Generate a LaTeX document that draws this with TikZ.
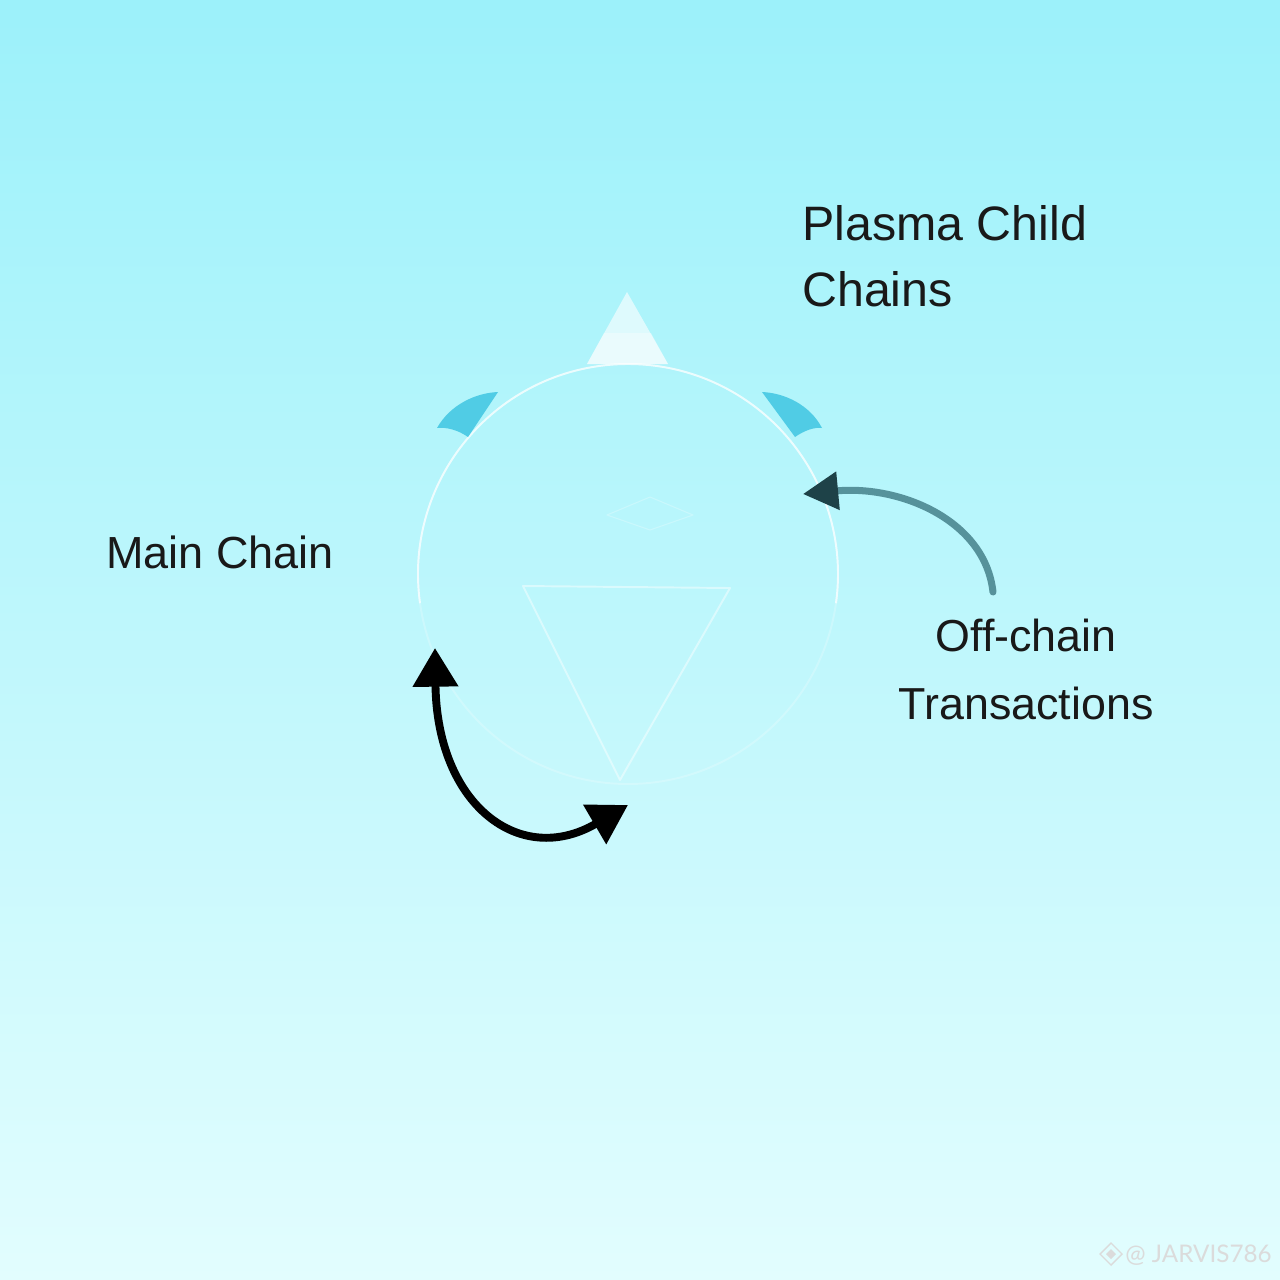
\documentclass[tikz,border=0pt]{standalone}
\usepackage{fontspec}
\setmainfont{Liberation Sans}
\newfontfamily\markfont{Lato}
\usetikzlibrary{arrows.meta}

\definecolor{skytop}{RGB}{156,241,250}
\definecolor{skybottom}{RGB}{226,253,254}
\definecolor{fincyan}{RGB}{80,204,229}
\definecolor{shafttea}{RGB}{86,146,155}
\definecolor{headtea}{RGB}{30,66,72}

\begin{document}
\begin{tikzpicture}[x=0.2mm,y=-0.2mm,
    label/.style={inner sep=0pt,color=black!90},
    ghost/.style={color=white,line width=1.1pt,line join=round}]
  \useasboundingbox (0,0) rectangle (1280,1280);
  \shade[top color=skytop,bottom color=skybottom] (0,0) rectangle (1280,1280);

  % ring, triangles and fins
  \draw[ghost,opacity=0.22] (628,574) circle [radius=210];
  \draw[ghost,opacity=0.7] (628,574) ++(172:210) arc [start angle=172,end angle=368,radius=210];
  \fill[white,opacity=0.6] (627,292) -- (668,364) -- (587,364) -- cycle;
  \fill[white,opacity=0.35] (604,333) -- (651,333) -- (668,364) -- (587,364) -- cycle;
  \draw[ghost,opacity=0.45] (523,586) -- (730,588) -- (620,780) -- cycle;
  \draw[ghost,opacity=0.25,line width=0.6pt] (607,515) -- (650,497) -- (693,515) -- (650,530) -- cycle;
  \fill[fincyan] (437,428) .. controls (450,405) and (475,393) .. (498,392)
    -- (468,437) .. controls (458,430) and (447,427) .. (437,428) -- cycle;
  \fill[fincyan] (822,428) .. controls (810,405) and (785,393) .. (762,392)
    -- (795,437) .. controls (805,430) and (815,427) .. (822,428) -- cycle;

  \node[label,anchor=north west,align=left,font=\fontsize{27.5}{37.4}\selectfont] (plasma) at (802,205) {Plasma Child\\Chains};
  \node[label,anchor=base west,font=\fontsize{25.6}{34}\selectfont] (mainchain) at (106,568) {Main Chain};
  \node[label,anchor=north,align=center,font=\fontsize{25.5}{38.5}\selectfont] (offchain) at (1026,619) {Off-chain\\Transactions};

  \coordinate (mcTop) at (435,648);
  \coordinate (mcEnd) at (628,805);
  \draw[line width=4.5pt,color=black,{Triangle[length=22pt,width=25pt]}-{Triangle[length=22pt,width=25pt]}]
    (mcTop) .. controls (437,805) and (520,868) .. (mcEnd);

  \coordinate (ocStart) at (993,592);
  \coordinate (ocTip) at (803,494);
  \draw[line width=4pt,color=shafttea,line cap=round,-{Triangle[length=20pt,width=21pt,color=headtea]}]
    (ocStart) .. controls (985,520) and (900,485) .. (ocTip);

  % watermark
  \node[anchor=base east,inner sep=0pt,color=white!72!gray,font=\markfont\fontsize{13.8}{16}\selectfont] (mark) at (1272,1262) {@ JARVIS786};
  \draw[color=white!72!gray,line width=0.8pt] (1111,1243) -- (1122,1254) -- (1111,1265) -- (1100,1254) -- cycle;
  \fill[color=white!72!gray] (1111,1249) -- (1116,1254) -- (1111,1259) -- (1106,1254) -- cycle;
\end{tikzpicture}
\end{document}
